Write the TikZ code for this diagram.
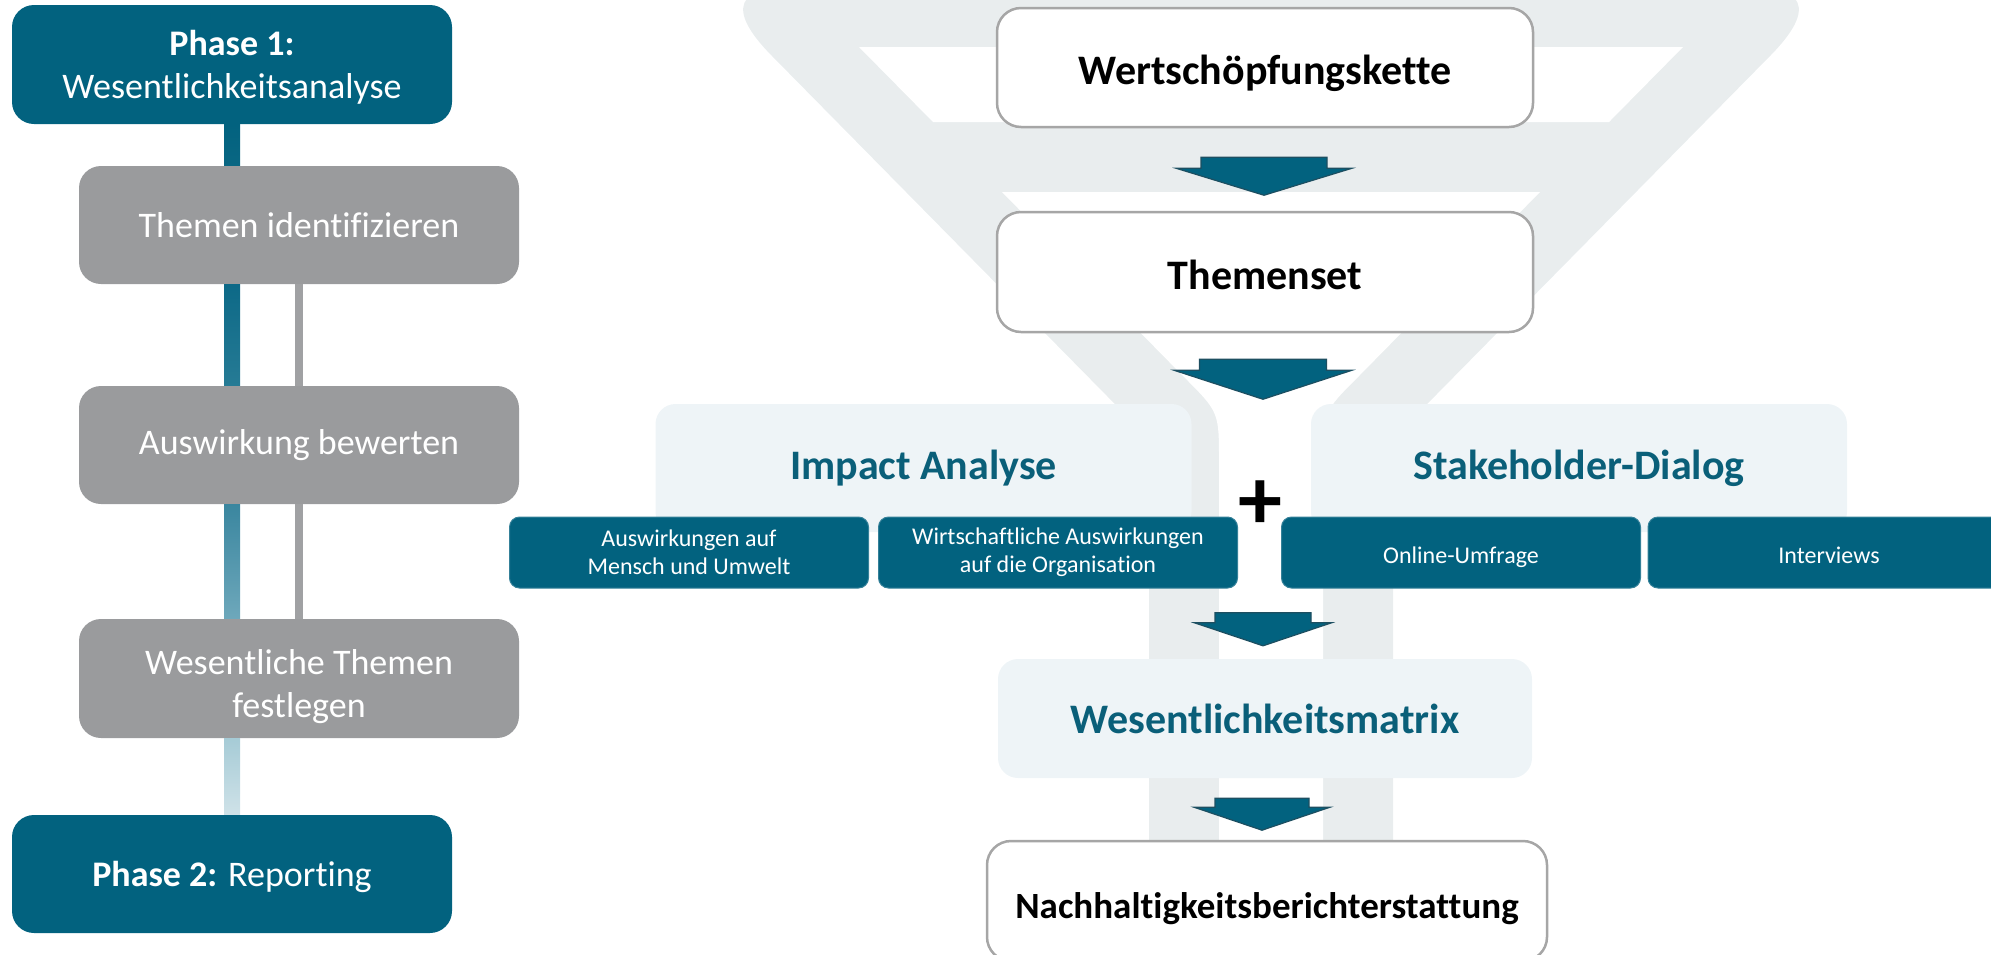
\documentclass[tikz,border=0pt]{standalone}
\usepackage{fontspec}
\setmainfont[Ligatures=NoCommon]{Carlito}
\usetikzlibrary{calc}
\definecolor{tealc}{HTML}{02627F}
\definecolor{titleteal}{HTML}{0A5F79}
\definecolor{grayb}{HTML}{9A9B9D}
\definecolor{grayline}{HTML}{A0A1A3}
\definecolor{funnelc}{HTML}{E9EDEE}
\definecolor{panelc}{HTML}{EEF4F7}
\definecolor{edgegray}{HTML}{A6A6A6}
\definecolor{arrowedge}{HTML}{1D4F61}
\newcommand\blockarr[5]{%
  \draw[blockarrow] ($(#1)+(-#2,0)$) -- ($(#1)+(#2,0)$) -- ($(#1)+(#2,#4)$)
    -- ($(#1)+(#3,#4)$) -- ($(#1)+(0,#4+#5)$) -- ($(#1)+(-#3,#4)$)
    -- ($(#1)+(-#2,#4)$) -- cycle;}
\begin{document}
\begin{tikzpicture}[x=1pt,y=-1pt,
  phasebox/.style={fill=tealc, rounded corners=22, text=white, minimum width=440,
    minimum height=119, inner sep=0, align=center, text depth=0pt,
    font=\fontsize{36}{43}\selectfont},
  graybox/.style={fill=grayb, rounded corners=22, text=white, minimum width=440,
    minimum height=118, inner sep=0, align=center, font=\fontsize{36}{43}\selectfont},
  whitebox/.style={fill=white, draw=edgegray, line width=2.5, rounded corners=24,
    minimum height=119, inner sep=0, align=center, text=black, text height=42pt,
    text depth=8pt, font=\fontsize{42}{50}\selectfont\bfseries},
  panel/.style={fill=panelc, rounded corners=20, minimum height=128, minimum width=536,
    inner sep=0, text=titleteal, font=\fontsize{42}{50}\selectfont\bfseries},
  subbox/.style={fill=tealc, draw=tealc!80!white, line width=1, rounded corners=10,
    minimum width=359, minimum height=71, inner sep=0, align=center, text=white,
    font=\fontsize{24}{28}\selectfont},
  onesub/.style={subbox, text height=26pt, text depth=5pt},
  blockarrow/.style={fill=tealc, draw=arrowedge, line width=1.2, line join=miter},
  grayconn/.style={draw=grayline, line width=8},
]
\useasboundingbox (0,0) rectangle (1991,954);

% background funnel
\fill[funnelc] (802,-15) -- (1740,-15) .. controls (1806.7,-15) and (1816.7,8.7) .. (1770,56)
  -- (1435,396) .. controls (1393,439) .. (1393,489) -- (1393,1000)
  -- (1149,1000) -- (1149,489) .. controls (1149,439) .. (1107,396)
  -- (772,56) .. controls (725.3,8.7) and (735.3,-15) .. (802,-15) -- cycle;
\fill[white] (859,47) -- (1683,47) -- (1609,122) -- (933,122) -- cycle;
\fill[white] (1002,192) -- (1540,192) -- (1358,377) .. controls (1323,412) .. (1323,462)
  -- (1323,1000) -- (1219,1000) -- (1219,462) .. controls (1219,412) .. (1184,377) -- cycle;

% left column
\node[phasebox] (p1) at (232,64.5) {\textbf{Phase 1:}\\Wesentlichkeitsanalyse};
\node[graybox] (themen) at (299,225) {Themen identifizieren};
\node[graybox] (ausw) at (299,445) {Auswirkung bewerten};
\node[graybox, minimum height=119, text height=78pt, text depth=0pt] (wes) at (299,678.5) {Wesentliche Themen\\festlegen};
\node[phasebox, minimum height=118] (p2) at (232,874) {\textbf{Phase 2:} Reporting};

\shade[top color=tealc, bottom color=tealc!97!white]
  ($(p1.south)+(-8,0)$) rectangle ($(p1.south |- themen.north)+(8,0)$);
\shade[top color={rgb,255:red,13;green,105;blue,135}, bottom color={rgb,255:red,38;green,123;blue,149}]
  ($(p1.south |- themen.south)+(-8,0)$) rectangle ($(p1.south |- ausw.north)+(8,0)$);
\shade[top color={rgb,255:red,58;green,134;blue,159}, bottom color={rgb,255:red,110;green,168;blue,187}]
  ($(p1.south |- ausw.south)+(-8,0)$) rectangle ($(p1.south |- wes.north)+(8,0)$);
\shade[top color={rgb,255:red,166;green,203;blue,214}, bottom color={rgb,255:red,207;green,226;blue,232}]
  ($(p1.south |- wes.south)+(-8,0)$) rectangle ($(p1.south |- p2.north)+(8,0)$);
\draw[grayconn] (themen.south) -- (ausw.north);
\draw[grayconn] (ausw.south) -- (wes.north);

% right column
\node[whitebox, minimum width=536] (wsk) at (1265,67.5) {Wertschöpfungskette};
\node[whitebox, minimum width=536, minimum height=120] (tset) at (1265,272) {Themenset};
\node[panel] (impact) at (923.5,468) {Impact Analyse};
\node[panel] (stake) at (1579,468) {Stakeholder-Dialog};
\node[subbox] (s1) at (689,552.5) {Auswirkungen auf\\Mensch und Umwelt};
\node[subbox] (s2) at (1058,552.5) {Wirtschaftliche Auswirkungen\\auf die Organisation};
\node[onesub] (s3) at (1461,552.5) {Online-Umfrage};
\node[onesub, minimum width=362] (s4) at (1829,552.5) {Interviews};
\node[font=\fontsize{88}{88}\selectfont\bfseries, inner sep=0] (plus) at (1260,505) {+};
\node[panel, minimum width=534, minimum height=119] (matrix) at (1265,718.5) {Wesentlichkeitsmatrix};
\node[whitebox, minimum width=560, minimum height=120, font=\fontsize{37}{44}\selectfont\bfseries]
  (nb) at (1267,901) {Nachhaltigkeitsberichterstattung};

\coordinate (a1) at ($(wsk.south)+(-1,29)$);
\coordinate (a2) at ($(tset.south)+(-2,26)$);
\coordinate (a3) at ($(matrix.north)+(-2,-46)$);
\coordinate (a4) at ($(matrix.south)+(-3,20)$);
\blockarr{a1}{63}{88}{11}{27}
\blockarr{a2}{63.5}{89}{11}{29}
\blockarr{a3}{48}{68.5}{10}{23}
\blockarr{a4}{47}{68}{9}{23}
\end{tikzpicture}
\end{document}
